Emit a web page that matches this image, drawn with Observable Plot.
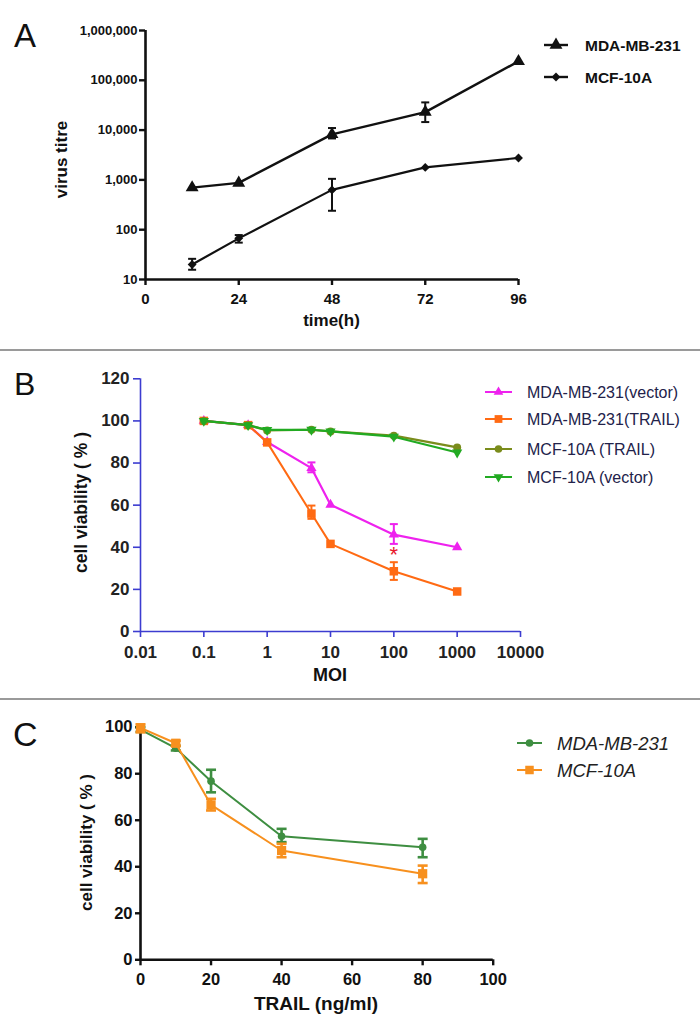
<!DOCTYPE html>
<html><head><meta charset="utf-8">
<script src="https://cdn.jsdelivr.net/npm/d3@7"></script>
<script src="https://cdn.jsdelivr.net/npm/@observablehq/plot@0.6"></script>
<style>
body{margin:0;background:#fff;}
#wrap{position:relative;width:700px;height:1033px;overflow:hidden;background:#fff;}
#wrap > svg{position:absolute;left:0;}
</style></head><body><div id="wrap"></div>
<script>
// ---------- Panel A: virus titre vs time ----------
const timeA = [12, 24, 48, 72, 96];
const timeTicksA = [0, 24, 48, 72, 96];
const titreTicksA = [10, 100, 1000, 10000, 100000, 1000000];
const mdaTitre   = [700, 870, 8200, 23000, 240000];
const mdaTitreLo = [700, 870, 6800, 14500, 240000];
const mdaTitreHi = [700, 870, 11000, 36000, 240000];
const mcfTitre   = [20, 67, 630, 1780, 2760];
const mcfTitreLo = [15.7, 55, 240, 1780, 2760];
const mcfTitreHi = [26, 78, 1050, 1780, 2760];
const legendA = ["MDA-MB-231", "MCF-10A"];

// ---------- Panel B: cell viability vs MOI ----------
const moi = [0.1, 0.5, 1, 5, 10, 100, 1000];
const moiTicks = [0.01, 0.1, 1, 10, 100, 1000, 10000];
const viabTicksB = [0, 20, 40, 60, 80, 100, 120];
const mdaVector   = [100, 98, 90, 77.6, 60.2, 46, 40];
const mdaVectorLo = [100, 98, 90, 75.6, 60.2, 41.6, 40];
const mdaVectorHi = [100, 98, 90, 80.3, 60.2, 51, 40];
const mdaTrail    = [100, 98, 89.8, 56, 41.6, 28.6, 19];
const mdaTrailLo  = [100, 98, 89.8, 53.5, 41.6, 24.5, 19];
const mdaTrailHi  = [100, 98, 89.8, 59.8, 41.6, 32.9, 19];
const mcfTrailB   = [100, 98, 95.5, 95.8, 95, 93, 87.4];
const mcfVectorB  = [100, 98, 95.7, 95.8, 95, 92.5, 85];
const sigMoi = [100];
const sigVal = [38.4];
const sigText = ["*"];
const legendB = ["MDA-MB-231(vector)", "MDA-MB-231(TRAIL)", "MCF-10A (TRAIL)", "MCF-10A (vector)"];

// ---------- Panel C: cell viability vs TRAIL ----------
const trailDose = [0, 10, 20, 40, 80];
const doseTicks = [0, 20, 40, 60, 80, 100];
const viabTicksC = [0, 20, 40, 60, 80, 100];
const mdaC   = [99, 91, 76.8, 53.1, 48.4];
const mdaCLo = [98, 90, 72, 50.6, 44.1];
const mdaCHi = [100, 92, 81.7, 56.3, 52];
const mcfC   = [99.7, 93.1, 66.6, 47, 37];
const mcfCLo = [97.8, 92, 64.2, 44.1, 33];
const mcfCHi = [101.2, 94.2, 69.2, 49.9, 40.5];
const legendC = ["MDA-MB-231", "MCF-10A"];

// ---------- helpers ----------
const FONT = "Arial, 'Liberation Sans', Helvetica, sans-serif";
const rows = (xs, v, lo, hi) => xs.map((x, i) => ({x, y: v[i], lo: lo ? lo[i] : v[i], hi: hi ? hi[i] : v[i]}));
const errs = r => r.filter(d => d.lo !== d.hi);
const capSym = hw => ({draw(ctx) { ctx.moveTo(-hw, 0); ctx.lineTo(hw, 0); }});
const triDown = {draw(ctx, size) {
  const s3 = Math.sqrt(3), y = -Math.sqrt(size / (s3 * 3));
  ctx.moveTo(0, -y * 2); ctx.lineTo(-s3 * y, y); ctx.lineTo(s3 * y, y); ctx.closePath();
}};
function series(r, {color, symbol, rad, lw, cap, elw}) {
  const e = errs(r);
  return [
    Plot.line(r, {x: "x", y: "y", stroke: color, strokeWidth: lw}),
    Plot.ruleX(e, {x: "x", y1: "lo", y2: "hi", stroke: color, strokeWidth: elw}),
    Plot.dot(e, {x: "x", y: "lo", symbol: capSym(cap), fill: "none", stroke: color, strokeWidth: elw}),
    Plot.dot(e, {x: "x", y: "hi", symbol: capSym(cap), fill: "none", stroke: color, strokeWidth: elw}),
    Plot.dot(r, {x: "x", y: "y", symbol, r: rad, fill: color, stroke: "none"})
  ];
}
const wrap = document.getElementById("wrap");
function place(svg, top) { svg.style.top = top + "px"; wrap.appendChild(svg); }

// ---------- Plot A ----------
const A1 = rows(timeA, mdaTitre, mdaTitreLo, mdaTitreHi);
const A2 = rows(timeA, mcfTitre, mcfTitreLo, mcfTitreHi);
const plotA = Plot.plot({
  width: 700, height: 345,
  marginLeft: 145, marginRight: 182, marginTop: 30, marginBottom: 66,
  style: {fontFamily: FONT, fontWeight: "bold", background: "transparent"},
  x: {domain: [0, 96]},
  y: {type: "log", domain: [10, 1000000]},
  marks: [
    Plot.ruleY([10], {stroke: "#111", strokeWidth: 2.6}),
    Plot.ruleX([0], {stroke: "#111", strokeWidth: 2.6}),
    Plot.axisX({ticks: timeTicksA, tickSize: 6, tickPadding: 8, tickFormat: d => String(d), fontSize: 15, fontWeight: "bold", stroke: "#111", fill: "#111", strokeWidth: 2.4, label: null}),
    Plot.axisY({ticks: titreTicksA, tickSize: 6, tickPadding: 2, tickFormat: d3.format(","), fontSize: 13, fontWeight: "bold", stroke: "#111", fill: "#111", strokeWidth: 2.4, label: null}),
    ...series(A2, {color: "#111", symbol: "diamond2", rad: 4, lw: 2.2, cap: 4, elw: 2}),
    ...series(A1, {color: "#111", symbol: "triangle", rad: 4.8, lw: 2.4, cap: 4, elw: 2})
  ]
});
place(plotA, 0);

// ---------- Plot B ----------
const BLUE = "#3c3cd0";
const colB = ["#ee22ee", "#ff6a13", "#7a8c1c", "#22aa22"];
const B1 = rows(moi, mdaVector, mdaVectorLo, mdaVectorHi);
const B2 = rows(moi, mdaTrail, mdaTrailLo, mdaTrailHi);
const B3 = rows(moi, mcfTrailB);
const B4 = rows(moi, mcfVectorB);
const sigRows = sigMoi.map((x, i) => ({x, y: sigVal[i], t: sigText[i]}));
const plotB = Plot.plot({
  width: 700, height: 345,
  marginLeft: 140, marginRight: 180, marginTop: 26.3, marginBottom: 66,
  style: {fontFamily: FONT, fontWeight: "bold", background: "transparent"},
  x: {type: "log", domain: [0.01, 10000]},
  y: {domain: [0, 120]},
  marks: [
    Plot.ruleY([0], {stroke: BLUE, strokeWidth: 1.6}),
    Plot.ruleX([0.01], {stroke: BLUE, strokeWidth: 1.6}),
    Plot.axisX({ticks: moiTicks, tickSize: 6, tickPadding: 8, tickFormat: d => String(d), fontSize: 17, fontWeight: "bold", stroke: BLUE, fill: "#222", strokeWidth: 1.6, label: null}),
    Plot.axisY({ticks: viabTicksB, tickSize: 7, tickPadding: 4, tickFormat: d => String(d), fontSize: 17, fontWeight: "bold", stroke: BLUE, fill: "#222", strokeWidth: 1.6, label: null}),
    ...series(B1, {color: colB[0], symbol: "triangle", rad: 3.8, lw: 2.2, cap: 4, elw: 2}),
    ...series(B2, {color: colB[1], symbol: "square", rad: 4.8, lw: 2, cap: 4, elw: 2}),
    ...series(B3, {color: colB[2], symbol: "circle", rad: 4, lw: 2.2, cap: 4, elw: 2}),
    ...series(B4, {color: colB[3], symbol: triDown, rad: 3.8, lw: 2.2, cap: 4, elw: 2}),
    Plot.text(sigRows, {x: "x", y: "y", text: "t", fill: "#e8192c", fontSize: 22, fontWeight: "normal", dy: 4})
  ]
});
place(plotB, 352);

// ---------- Plot C ----------
const colC = ["#3e8e41", "#f7901e"];
const C1 = rows(trailDose, mdaC, mdaCLo, mdaCHi);
const C2 = rows(trailDose, mcfC, mcfCLo, mcfCHi);
const plotC = Plot.plot({
  width: 700, height: 332,
  marginLeft: 140, marginRight: 207.3, marginTop: 25.7, marginBottom: 73.7,
  style: {fontFamily: FONT, fontWeight: "bold", background: "transparent"},
  x: {domain: [0, 100]},
  y: {domain: [0, 100]},
  marks: [
    Plot.ruleY([0], {stroke: "#111", strokeWidth: 2.6}),
    Plot.ruleX([0], {stroke: "#111", strokeWidth: 2.6}),
    Plot.axisX({ticks: doseTicks, tickSize: 6, tickPadding: 7, tickFormat: d => String(d), fontSize: 16.5, fontWeight: "bold", stroke: "#111", fill: "#111", strokeWidth: 2.4, label: null}),
    Plot.axisY({ticks: viabTicksC, tickSize: 5, tickPadding: 3, tickFormat: d => String(d), fontSize: 16.5, fontWeight: "bold", stroke: "#111", fill: "#111", strokeWidth: 2.4, label: null}),
    ...series(C1, {color: colC[0], symbol: "circle", rad: 3.8, lw: 2, cap: 5, elw: 2.6}),
    ...series(C2, {color: colC[1], symbol: "square", rad: 5.2, lw: 2, cap: 5, elw: 2.6})
  ]
});
place(plotC, 701);

// ---------- overlay: panel letters, titles, legends, separators ----------
const ov = d3.select(wrap).append("svg")
  .attr("width", 700).attr("height", 1033)
  .style("top", "0px").style("pointer-events", "none")
  .style("font-family", FONT);

[350, 699].forEach(y => ov.append("line").attr("x1", 0).attr("x2", 700).attr("y1", y).attr("y2", y)
  .attr("stroke", "#9a9a9a").attr("stroke-width", 2));

const letter = (t, x, y, fs) => ov.append("text").attr("x", x).attr("y", y).attr("font-size", fs).attr("fill", "#111").text(t);
letter("A", 14, 47, 33); letter("B", 14, 395, 32); letter("C", 13, 746, 34);

const title = (t, x, y, fs, rot) => {
  const g = ov.append("text").attr("font-size", fs).attr("font-weight", "bold").attr("fill", "#111").attr("text-anchor", "middle");
  if (rot) g.attr("transform", `translate(${x},${y}) rotate(-90)`); else g.attr("x", x).attr("y", y);
  g.text(t);
};
title("virus titre", 67, 159.5, 17, true);
title("time(h)", 331.5, 326, 17, false);
title("cell viability ( % )", 87, 502.5, 17.5, true);
title("MOI", 330, 680.5, 18, false);
title("cell viability ( % )", 92, 842.5, 17, true);
title("TRAIL (ng/ml)", 316, 1010, 19, false);

function symPath(sym, r) {
  const type = sym === "triangle" ? d3.symbolTriangle : sym === "square" ? d3.symbolSquare :
    sym === "circle" ? d3.symbolCircle : sym === "diamond2" ? d3.symbolDiamond2 : sym;
  return d3.symbol(type, Math.PI * r * r)();
}
function legend(names, cfg) {
  names.forEach((n, i) => {
    const y = cfg.ys[i], c = cfg.colors[i];
    ov.append("line").attr("x1", cfg.x1).attr("x2", cfg.x2).attr("y1", y).attr("y2", y)
      .attr("stroke", c).attr("stroke-width", cfg.lw);
    ov.append("path").attr("d", symPath(cfg.syms[i], cfg.rs[i]))
      .attr("transform", `translate(${(cfg.x1 + cfg.x2) / 2},${y})`).attr("fill", c);
    ov.append("text").attr("x", cfg.tx).attr("y", y).attr("dy", "0.36em")
      .attr("font-size", cfg.fs).attr("font-weight", cfg.fw).attr("font-style", cfg.style)
      .attr("fill", cfg.tc).text(n);
  });
}
legend(legendA, {ys: [45, 77], colors: ["#111", "#111"], syms: ["triangle", "diamond2"], rs: [4.8, 4],
  x1: 544, x2: 568, lw: 2.4, tx: 585, fs: 15.5, fw: "bold", style: "normal", tc: "#111"});
legend(legendB, {ys: [392, 419, 449, 477], colors: colB, syms: ["triangle", "square", "circle", triDown], rs: [3.6, 4.4, 3.8, 3.6],
  x1: 485, x2: 512, lw: 2, tx: 527, fs: 16, fw: "normal", style: "normal", tc: "#22224a"});
legend(legendC, {ys: [743, 770], colors: colC, syms: ["circle", "square"], rs: [3.8, 4.8],
  x1: 517, x2: 542, lw: 2, tx: 557, fs: 18.5, fw: "normal", style: "italic", tc: "#222"});
</script>
</body></html>
